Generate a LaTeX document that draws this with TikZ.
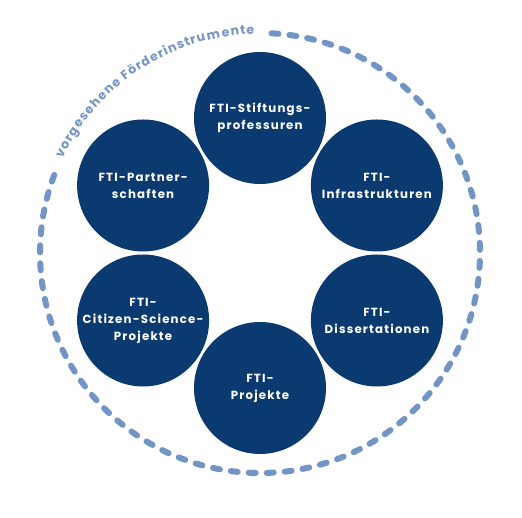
\documentclass[tikz,border=0pt]{standalone}
\usepackage{fontspec}
\setmainfont{Poppins}
\newfontfamily\lblfont[LetterSpace=10]{Poppins}
\usetikzlibrary{decorations.text,calc}
\definecolor{navy}{HTML}{0B3A70}
\definecolor{lightblue}{HTML}{7395C6}
\tikzset{
  bubble/.style={circle, fill=navy, minimum size=132pt, inner sep=0pt,
    text=white, align=center, font=\lblfont\bfseries\fontsize{11.8}{17}\selectfont},
  dashring/.style={draw=lightblue, line width=6pt, line cap=round, dash pattern=on 7pt off 11pt},
}
\begin{document}
\begin{tikzpicture}[x=1pt,y=1pt]
\useasboundingbox (0,0) rectangle (522,518);
\coordinate (c) at (260,265);
\draw[dashring] ($(c)+(87:220)$) arc[start angle=87, end angle=-203, radius=220];
\path[decorate, decoration={text effects along path,
   text={vorgesehene Förderinstrumente},
   text effects/.cd, text along path, fit text to path,
   characters={text=lightblue, font=\bfseries\fontsize{12.5}{13}\selectfont}}]
   ($(c)+(154.5:219)$) arc[start angle=154.5, end angle=91.5, radius=219];
\node[bubble] (stift) at ($(c)+(90:135)$) {FTI-Stiftungs-\\professuren};
\node[bubble] (partner) at ($(c)+(150:135)$) {FTI-Partner-\\schaften};
\node[bubble] (infra) at ($(c)+(30:135)$) {FTI-\\Infrastrukturen};
\node[bubble] (citizen) at ($(c)+(210:135)$) {FTI-\\Citizen-Science-\\Projekte};
\node[bubble] (diss) at ($(c)+(-30:135)$) {FTI-\\Dissertationen};
\node[bubble] (proj) at ($(c)+(270:135)$) {FTI-\\Projekte};
\end{tikzpicture}
\end{document}
